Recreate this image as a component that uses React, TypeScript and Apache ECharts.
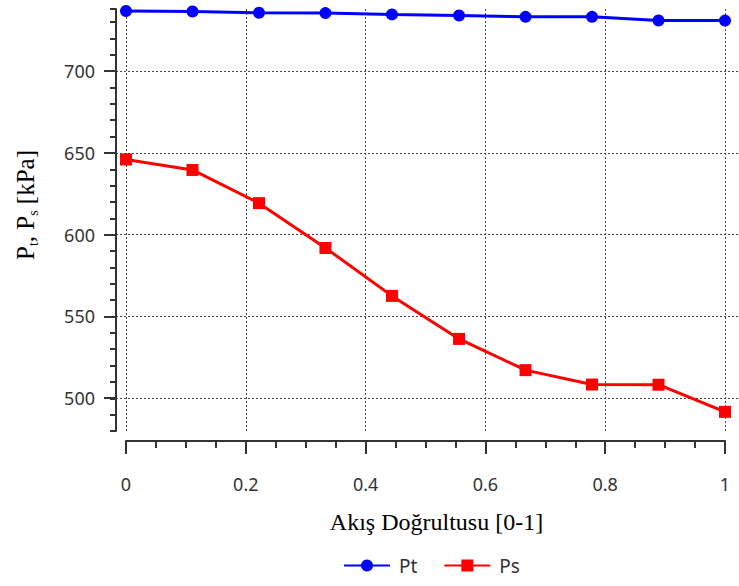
import React, { useEffect, useRef } from "react";
import * as echarts from "echarts";

// Data
const xPositions = [0, 0.111, 0.222, 0.333, 0.444, 0.556, 0.667, 0.778, 0.889, 1];
const ptValues = [736.8, 736.5, 735.7, 735.5, 734.7, 734.0, 733.2, 733.2, 731.0, 730.9];
const psValues = [646.0, 639.6, 619.3, 591.9, 562.6, 536.3, 517.2, 508.4, 508.3, 491.7];
const seriesNames = ["Pt", "Ps"];
const xAxisTitle = "Akış Doğrultusu [0-1]";

const AXIS_COLOR = "#333";
const LABEL_FONT = "Noto Sans";
const SERIF = "Liberation Serif";

export default function App() {
  const ref = useRef<HTMLDivElement>(null);

  useEffect(() => {
    if (!ref.current) return;
    const chart = echarts.init(ref.current, null, { renderer: "svg" });
    const dotted = { type: [2, 2] as any, color: "#444", width: 1 };

    const option: any = {
      animation: false,
      grid: [
        // data grid (x axis, vertical grid lines)
        { left: 126, width: 599, top: 9, height: 422 },
        // horizontal grid lines, major y ticks and labels
        { left: 116, width: 623, top: 71, height: 327 },
        // y axis line with minor ticks
        { left: 116, width: 10, top: 9, height: 422 },
      ],
      xAxis: [
        {
          gridIndex: 0,
          type: "value",
          min: 0,
          max: 1,
          interval: 0.2,
          offset: 10,
          axisLine: { show: true, onZero: false, lineStyle: { color: AXIS_COLOR, width: 2 } },
          axisTick: { show: true, length: 13, lineStyle: { color: AXIS_COLOR, width: 2 } },
          minorTick: { show: true, splitNumber: 4, length: 7, lineStyle: { color: AXIS_COLOR, width: 2 } },
          axisLabel: { margin: 34, fontSize: 18, fontFamily: LABEL_FONT, color: AXIS_COLOR },
          splitLine: { show: true, lineStyle: dotted },
        },
        { gridIndex: 1, type: "value", min: 0, max: 1, show: false },
        { gridIndex: 2, type: "value", min: 0, max: 1, show: false },
      ],
      yAxis: [
        { gridIndex: 0, type: "value", min: 480, max: 738, show: false },
        {
          gridIndex: 1,
          type: "value",
          min: 500,
          max: 700,
          interval: 50,
          axisLine: { show: false },
          axisTick: { show: true, length: 12, lineStyle: { color: AXIS_COLOR, width: 2 } },
          axisLabel: { margin: 21, fontSize: 18, fontFamily: LABEL_FONT, color: AXIS_COLOR },
          splitLine: { show: true, lineStyle: dotted },
        },
        {
          gridIndex: 2,
          type: "value",
          min: 480,
          max: 738,
          interval: 10,
          axisLine: { show: true, onZero: false, lineStyle: { color: AXIS_COLOR, width: 2 } },
          axisTick: { show: true, length: 6, lineStyle: { color: AXIS_COLOR, width: 2 } },
          axisLabel: { show: false },
          splitLine: { show: false },
        },
      ],
      legend: {
        data: seriesNames,
        left: 338,
        top: 551,
        itemWidth: 46,
        itemHeight: 15,
        itemGap: 26,
        textStyle: { fontSize: 19, fontFamily: LABEL_FONT, color: AXIS_COLOR, padding: [0, 0, 0, 4] },
      },
      series: [
        {
          name: seriesNames[0],
          type: "line",
          xAxisIndex: 0,
          yAxisIndex: 0,
          data: xPositions.map((x, i) => [x, ptValues[i]]),
          symbol: "circle",
          symbolSize: 12,
          clip: false,
          lineStyle: { color: "#0000FF", width: 3 },
          itemStyle: { color: "#0000FF" },
        },
        {
          name: seriesNames[1],
          type: "line",
          xAxisIndex: 0,
          yAxisIndex: 0,
          data: xPositions.map((x, i) => [x, psValues[i]]),
          symbol: "rect",
          symbolSize: 12,
          clip: false,
          lineStyle: { color: "#FF0000", width: 3 },
          itemStyle: { color: "#FF0000" },
        },
      ],
      graphic: [
        {
          type: "text",
          x: 436.5,
          y: 521.5,
          style: {
            text: xAxisTitle,
            fontSize: 24,
            fontFamily: SERIF,
            fill: "#000",
            align: "center",
            verticalAlign: "middle",
          },
        },
        {
          type: "text",
          x: 25.5,
          y: 205,
          rotation: Math.PI / 2,
          style: {
            text: "{n|P}{b|t}{n|, P}{b|s}{n| [kPa]}",
            align: "center",
            verticalAlign: "middle",
            rich: {
              n: { fontSize: 25, fontFamily: SERIF, fill: "#000", lineHeight: 30 },
              b: { fontSize: 14, fontFamily: SERIF, fill: "#000", lineHeight: 14, verticalAlign: "bottom" },
            },
          },
        },
      ],
    };

    chart.setOption(option);
    return () => chart.dispose();
  }, []);

  return (
    <div
      ref={ref}
      style={{ position: "fixed", left: 0, top: 0, width: 739, height: 586, background: "#fff" }}
    />
  );
}
